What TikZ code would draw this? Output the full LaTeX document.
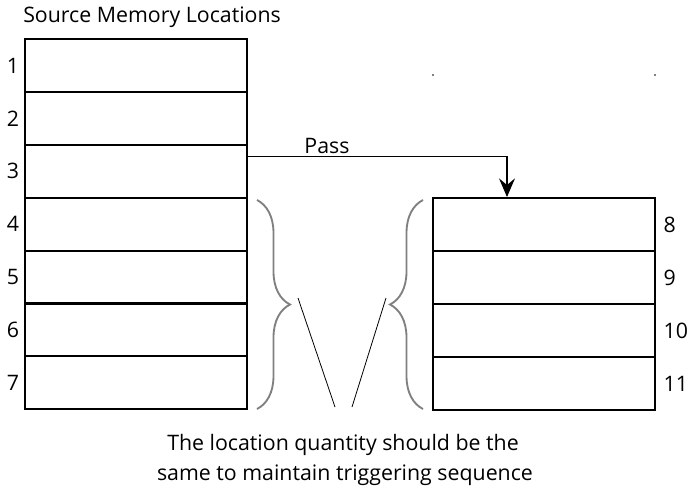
\documentclass[tikz,border=0pt]{standalone}
\usepackage{fontspec}
\setmainfont{Open Sans}
\usetikzlibrary{arrows.meta,decorations.pathreplacing}
\tikzset{
  txt/.style={font=\fontsize{16}{19}\selectfont, inner sep=0pt},
  cell/.style={draw, line width=1.5pt, minimum width=166.5pt, minimum height=39.7pt, inner sep=0pt},
  brc/.style={decorate, decoration={brace, amplitude=24.75pt}, draw=gray, line width=1.4pt},
  pass/.style={draw, line width=0.8pt, -{Stealth[length=14pt,width=12pt,inset=5pt]}}
}

\begin{document}
\begin{tikzpicture}[x=0.75pt,y=-0.75pt]
\useasboundingbox (0,0) rectangle (693,497);
\node[txt, anchor=base west] (title) at (23,22) {Source Memory Locations};
\foreach \i in {1,...,7}
  \node[cell, label={[txt, label distance=3.5pt]left:\i}] (s\i) at (136,{39+52.9*(\i-0.5)}) {};
\foreach \i in {8,...,11}
  \node[cell, label={[txt, label distance=5.5pt]right:\i}] (d\i) at (544,{198+53*(\i-7.5)}) {};
\draw[pass] ([yshift=-9.75pt]s3.north east) -| ([xshift=-27.75pt]d8.north);
\node[txt, anchor=base] (passlbl) at (327,153) {Pass};
\draw[brc] (257,200) -- (257,409);
\draw[brc] (423,409) -- (423,200);
\draw[line width=0.6pt] (298,298) -- (335,407);
\draw[line width=0.6pt] (386,298) -- (352,407);
\node[txt, anchor=base] (note1) at (343,450) {The location quantity should be the};
\node[txt, anchor=base] (note2) at (345,480) {same to maintain triggering sequence};
\fill[gray] (432,74) rectangle (434,76);
\fill[gray] (654,74) rectangle (656,76);
\end{tikzpicture}
\end{document}
